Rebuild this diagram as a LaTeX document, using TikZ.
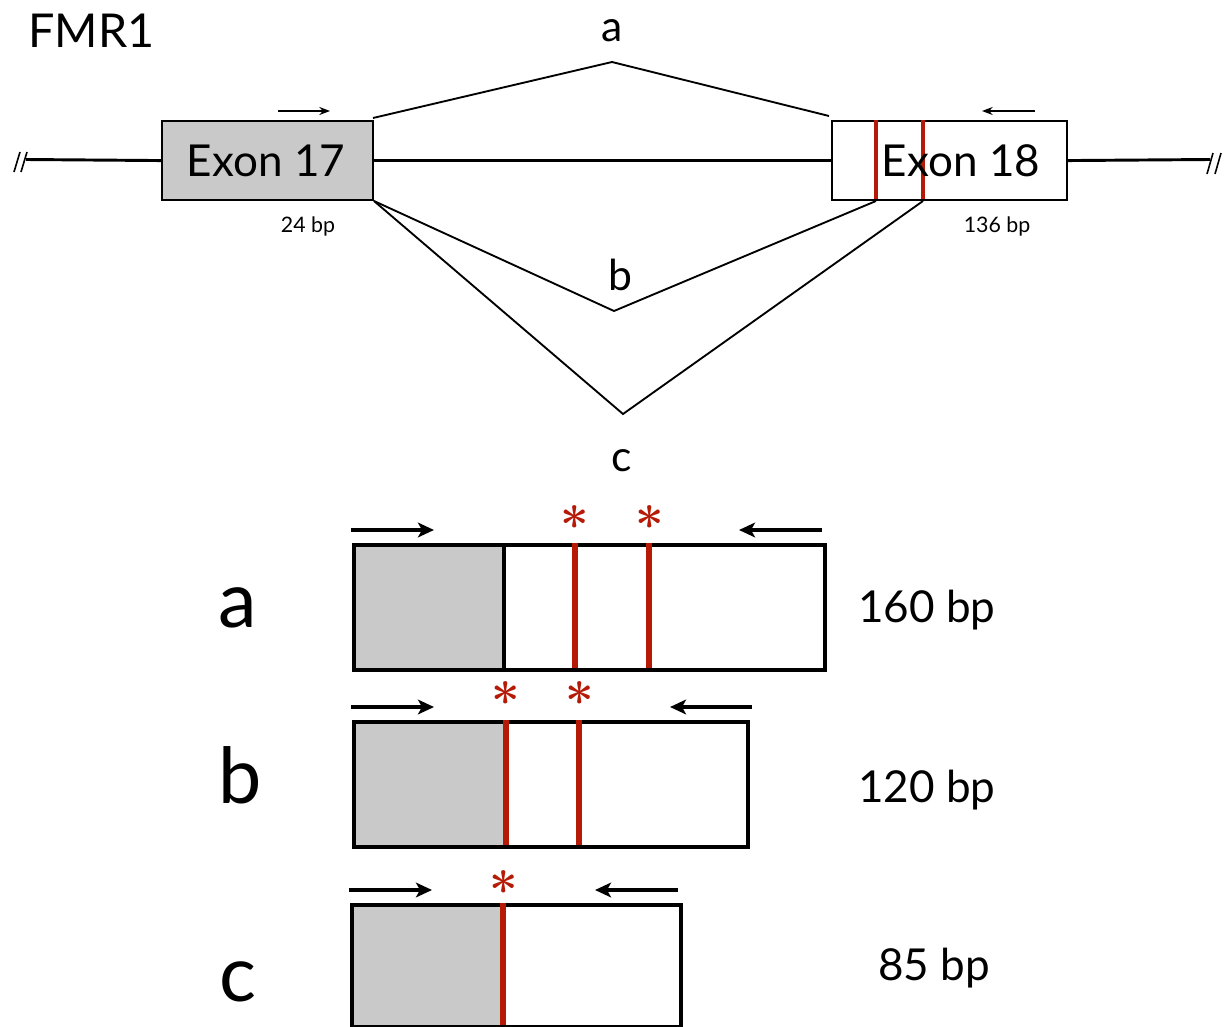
\documentclass[tikz,border=0pt]{standalone}
\usepackage{fontspec}
\newfontfamily\gs{Lato}
\usetikzlibrary{arrows.meta}
\definecolor{exgray}{HTML}{C9C9C9}
\definecolor{mutred}{HTML}{B51A06}
\tikzset{
  lbl/.style={font=\gs, inner sep=0pt, anchor=base},
  topbox/.style={draw=black, line width=1.6pt, inner sep=0pt, anchor=north west},
  botbox/.style={draw=black, line width=3pt, inner sep=0pt, anchor=north west},
  thinline/.style={line width=2.2pt},
  splice/.style={line width=1.4pt},
  redtop/.style={draw=mutred, line width=2.4pt},
  redbot/.style={draw=mutred, line width=3.8pt},
  primsmall/.style={line width=1.2pt, -{Stealth[length=8pt,width=6pt]}},
  primbig/.style={line width=2.4pt, -{Stealth[length=12pt,width=11pt,inset=3pt]}},
  star/.style={inner sep=0pt, anchor=base, text=mutred, font=\bfseries\fontsize{38}{38}\selectfont},
}
\begin{document}
\begin{tikzpicture}[x=0.75pt,y=-0.75pt]
\useasboundingbox (0,0) rectangle (1228,1027);

% ---------- gene model ----------
\node[lbl, anchor=base west, font=\gs\fontsize{35}{35}\selectfont] (title) at (28,48) {FMR1};

\node[topbox, fill=exgray, minimum width=211*0.75pt, minimum height=79*0.75pt] (ex17) at (161,120) {};
\node[topbox, fill=white, minimum width=235*0.75pt, minimum height=79*0.75pt] (ex18) at (831,120) {};

% red mutation lines in exon 18
\coordinate (r1t) at (876,120); \coordinate (r1b) at (876,199);
\coordinate (r2t) at (923,120); \coordinate (r2b) at (923,199);
\draw[redtop] (r1t) -- (r1b);
\draw[redtop] (r2t) -- (r2b);

\node[lbl, font=\gs\fontsize{33}{33}\selectfont] (t17) at (266,176) {Exon 17};
\node[lbl, font=\gs\fontsize{33}{33}\selectfont] (t18) at (961,176) {Exon 18};

% intron and flanks
\draw[thinline] (ex17.east) -- (ex18.west);
\coordinate (lend) at (26,159.5);
\coordinate (rend) at (1210,159.5);
\draw[thinline] (lend) -- (ex17.west);
\draw[thinline] (ex18.east) -- (rend);
\coordinate (ls1a) at (14,172); \coordinate (ls1b) at (20,152);
\coordinate (ls2a) at (21,172); \coordinate (ls2b) at (27,152);
\draw[line width=1.2pt] (ls1a) -- (ls1b);
\draw[line width=1.2pt] (ls2a) -- (ls2b);
\coordinate (rs1a) at (1207,174); \coordinate (rs1b) at (1213,153);
\coordinate (rs2a) at (1215,174); \coordinate (rs2b) at (1221,153);
\draw[line width=1.2pt] (rs1a) -- (rs1b);
\draw[line width=1.2pt] (rs2a) -- (rs2b);

% primers
\coordinate (p17a) at (278,111); \coordinate (p17b) at (330,111);
\coordinate (p18a) at (1035,111); \coordinate (p18b) at (982,111);
\draw[primsmall] (p17a) -- (p17b);
\draw[primsmall] (p18a) -- (p18b);

\node[lbl, font=\gs\fontsize{16}{16}\selectfont] (bp24) at (308,233) {24 bp};
\node[lbl, font=\gs\fontsize{16}{16}\selectfont] (bp136) at (997,233) {136 bp};

% splice junctions
\coordinate (va) at (612,62);
\coordinate (vb) at (614,311);
\coordinate (vc) at (623,414);
\coordinate (e17ta) at (373,118);
\coordinate (e18ta) at (829,116);
\coordinate (e17bb) at (374,201);
\coordinate (r1d) at (876,201);
\coordinate (r2d) at (923,201);
\draw[splice] (e17ta) -- (va) -- (e18ta);
\draw[splice] (e17bb) -- (vb) -- (r1d);
\draw[splice] (e17bb) -- (vc) -- (r2d);

\node[lbl, font=\gs\fontsize{32}{32}\selectfont] (la) at (612,42) {a};
\node[lbl, font=\gs\fontsize{32}{32}\selectfont] (lb) at (620,290) {b};
\node[lbl, font=\gs\fontsize{32}{32}\selectfont] (lc) at (622,471) {c};

% ---------- products ----------
% row a
\node[botbox, fill=exgray, minimum width=150*0.75pt, minimum height=125*0.75pt] (ag) at (352,543) {};
\node[botbox, fill=white, minimum width=321*0.75pt, minimum height=125*0.75pt] (aw) at (502,543) {};
\coordinate (ar1t) at (575,543); \coordinate (ar1b) at (575,668);
\coordinate (ar2t) at (649,543); \coordinate (ar2b) at (649,668);
\draw[redbot] (ar1t) -- (ar1b);
\draw[redbot] (ar2t) -- (ar2b);
\node[star] (as1) at (575,543) {*};
\node[star] (as2) at (650,543) {*};
\coordinate (apfa) at (351,530); \coordinate (apfb) at (434,530);
\coordinate (apra) at (822,530); \coordinate (aprb) at (739,530);
\draw[primbig] (apfa) -- (apfb);
\draw[primbig] (apra) -- (aprb);
\node[lbl, font=\gs\fontsize{58}{58}\selectfont] (biga) at (238,627) {a};
\node[lbl, font=\gs\fontsize{33}{33}\selectfont] (sa) at (927,622) {160 bp};

% row b
\node[botbox, fill=exgray, minimum width=151*0.75pt, minimum height=125*0.75pt] (bg) at (352,720) {};
\node[botbox, fill=white, minimum width=243*0.75pt, minimum height=125*0.75pt] (bw) at (503,720) {};
\coordinate (br1t) at (506,720); \coordinate (br1b) at (506,845);
\coordinate (br2t) at (579,720); \coordinate (br2b) at (579,845);
\draw[redbot] (br1t) -- (br1b);
\draw[redbot] (br2t) -- (br2b);
\node[star] (bs1) at (506,719) {*};
\node[star] (bs2) at (580,719) {*};
\coordinate (bpfa) at (351,707); \coordinate (bpfb) at (434,707);
\coordinate (bpra) at (752,707); \coordinate (bprb) at (670,707);
\draw[primbig] (bpfa) -- (bpfb);
\draw[primbig] (bpra) -- (bprb);
\node[lbl, font=\gs\fontsize{58}{58}\selectfont] (bigb) at (240,803) {b};
\node[lbl, font=\gs\fontsize{33}{33}\selectfont] (sb) at (927,802) {120 bp};

% row c
\node[botbox, fill=exgray, minimum width=151*0.75pt, minimum height=122*0.75pt] (cg) at (350,903) {};
\node[botbox, fill=white, minimum width=178*0.75pt, minimum height=122*0.75pt] (cw) at (501,903) {};
\coordinate (cr1t) at (503,903); \coordinate (cr1b) at (503,1025);
\draw[redbot] (cr1t) -- (cr1b);
\node[star] (cs1) at (504,908) {*};
\coordinate (cpfa) at (349,890); \coordinate (cpfb) at (432,890);
\coordinate (cpra) at (678,890); \coordinate (cprb) at (595,890);
\draw[primbig] (cpfa) -- (cpfb);
\draw[primbig] (cpra) -- (cprb);
\node[lbl, font=\gs\fontsize{58}{58}\selectfont] (bigc) at (238,1001) {c};
\node[lbl, font=\gs\fontsize{33}{33}\selectfont] (sc) at (934,980) {85 bp};
\end{tikzpicture}
\end{document}
